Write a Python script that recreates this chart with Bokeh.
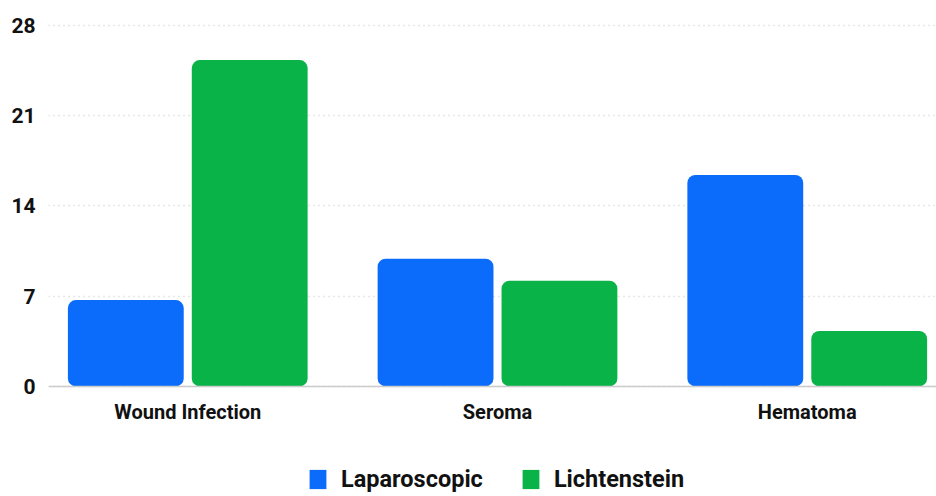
from bokeh.plotting import figure
from bokeh.models import ColumnDataSource, Range1d, FixedTicker, Legend
from bokeh.transform import dodge
from bokeh.embed import file_html
from bokeh.resources import INLINE

categories = ["Wound Infection", "Seroma", "Hematoma"]
laparoscopic = [6.7, 9.9, 16.4]
lichtenstein = [25.3, 8.2, 4.3]
y_ticks = [0, 7, 14, 21, 28]

BLUE = "#0b6cfb"
GREEN = "#0ab347"
FONT = "Roboto"

src = ColumnDataSource(dict(
    idx=list(range(len(categories))),
    lap=laparoscopic,
    lich=lichtenstein,
))

# frame runs to the bottom of the page; the category axis sits at y = 0
p = figure(width=936, height=496, output_backend="svg", toolbar_location=None,
           x_range=Range1d(-0.4496, 2.4173), y_range=Range1d(-8.53, 28.37),
           min_border_left=48, min_border_right=0, min_border_top=20,
           min_border_bottom=0, background_fill_color="white",
           border_fill_color="white")
p.outline_line_color = None

r1 = p.vbar(x=dodge("idx", -0.2), top="lap", width=0.374, source=src,
            fill_color=BLUE, line_color=None, border_radius=8)
r2 = p.vbar(x=dodge("idx", 0.2), top="lich", width=0.374, source=src,
            fill_color=GREEN, line_color=None, border_radius=8)

# axes
p.xaxis.fixed_location = 0
p.xaxis.ticker = FixedTicker(ticks=list(range(len(categories))))
p.xaxis.major_label_overrides = {i: c for i, c in enumerate(categories)}
p.xaxis.major_tick_line_color = None
p.xaxis.minor_tick_line_color = None
p.xaxis.axis_line_color = "#cccccc"
p.xaxis.axis_line_width = 1.5
p.xaxis.major_label_text_font = FONT
p.xaxis.major_label_text_font_style = "bold"
p.xaxis.major_label_text_font_size = "20px"
p.xaxis.major_label_text_color = "#111111"
p.xaxis.major_label_standoff = 8

p.yaxis.ticker = FixedTicker(ticks=y_ticks)
p.yaxis.major_tick_line_color = None
p.yaxis.minor_tick_line_color = None
p.yaxis.axis_line_color = None
p.yaxis.major_label_text_font = FONT
p.yaxis.major_label_text_font_style = "bold"
p.yaxis.major_label_text_font_size = "21px"
p.yaxis.major_label_text_color = "#111111"
p.yaxis.major_label_standoff = 7

p.xgrid.grid_line_color = None
p.ygrid.grid_line_color = "#cfcfcf"
p.ygrid.grid_line_dash = "1 4"
p.ygrid.grid_line_width = 1.5

legend = Legend(items=[("Laparoscopic", [r1]), ("Lichtenstein", [r2])],
                orientation="horizontal", location=(259, 3),
                glyph_width=21, glyph_height=24, label_standoff=13,
                spacing=37, padding=0, margin=0,
                label_text_font=FONT, label_text_font_style="bold",
                label_text_font_size="23.5px", label_text_color="#111111",
                border_line_color=None, background_fill_alpha=0)
p.add_layout(legend, "center")

open("out.html", "w").write(file_html(p, INLINE))
